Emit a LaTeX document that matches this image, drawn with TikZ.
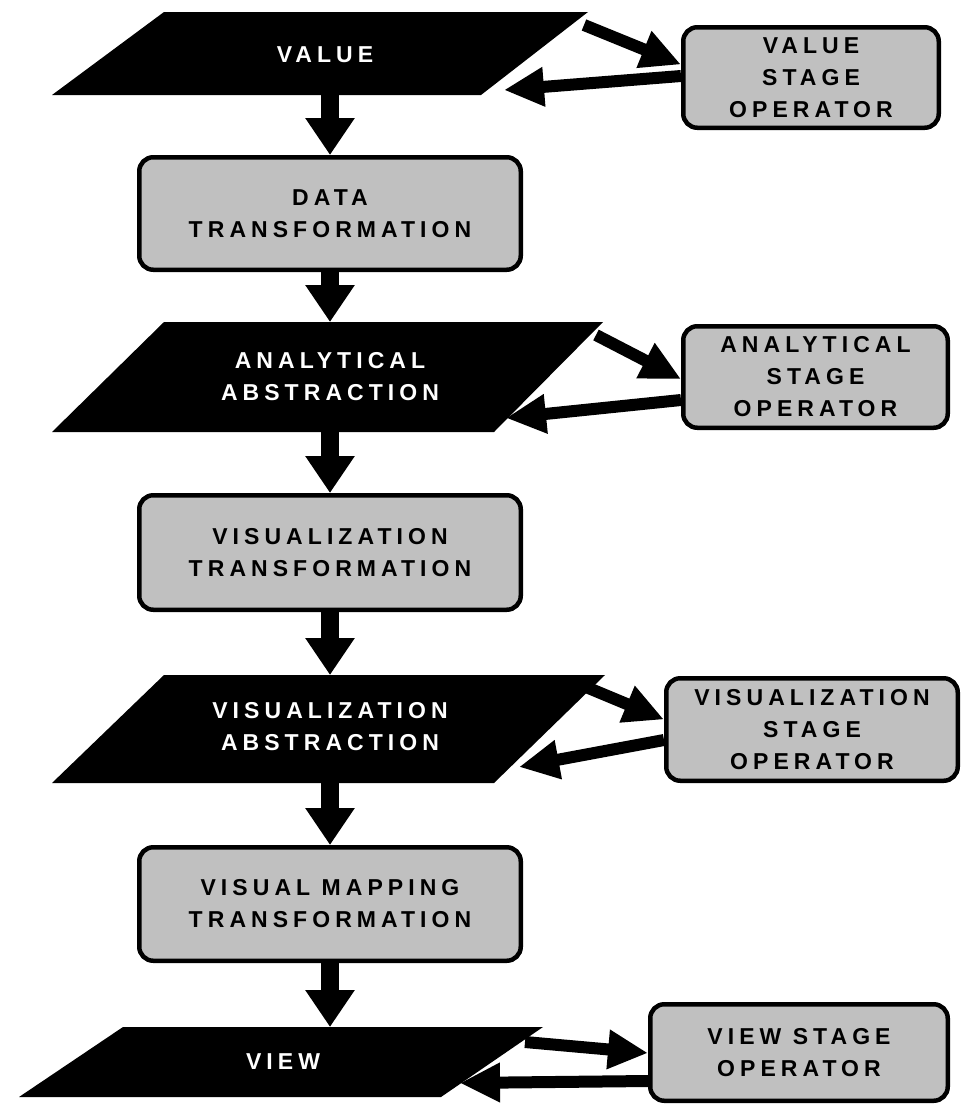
\documentclass[tikz,border=0pt]{standalone}
\usepackage{fontspec}
\newfontfamily\labfam{Liberation Sans}[LetterSpace=22]
\newcommand\labfont{\labfam\bfseries\fontsize{23}{32}\selectfont}
\usetikzlibrary{arrows.meta}
\definecolor{boxgray}{RGB}{192,192,192}
\begin{document}
\begin{tikzpicture}[x=1pt,y=-1pt,
  box/.style={draw=black, line width=4.5pt, fill=boxgray, rounded corners=14pt,
    inner sep=0pt, align=center, font=\labfont, text=black},
  para/.style={fill=black},
  ptext/.style={align=center, font=\labfont, text=white, inner sep=0pt},
  flow/.style={line width=18pt, -{Triangle[length=37pt,width=47pt]}},
  side/.style={line width=12pt, -{Triangle[length=40pt,width=37pt]}}]
\useasboundingbox (0,0) rectangle (963,1104);

% parallelograms (stages)
\fill[para] (164,12) -- (588,12) -- (481,95) -- (52,95) -- cycle;
\fill[para] (164,322) -- (603,322) -- (494,432) -- (52,432) -- cycle;
\fill[para] (164,675) -- (605,675) -- (494,783) -- (52,783) -- cycle;
\fill[para] (123,1027) -- (543,1027) -- (441,1097) -- (19,1097) -- cycle;

\node[ptext] (val) at (325,55) {VALUE};
\node[ptext] (aa) at (330,377) {ANALYTICAL\\ABSTRACTION};
\node[ptext] (va) at (330,727) {VISUALIZATION\\ABSTRACTION};
\node[ptext] (view) at (283,1062) {VIEW};

\coordinate (p1b) at (330,94);
\coordinate (p2t) at (330,322);
\coordinate (p2b) at (330,431);
\coordinate (p3t) at (330,675);
\coordinate (p3b) at (330,782);
\coordinate (p4t) at (330,1027);

% transformation boxes
\node[box, minimum width=381.5pt, minimum height=112.5pt] (dt) at (330,213.5) {DATA\\TRANSFORMATION};
\node[box, minimum width=381.5pt, minimum height=114.5pt] (vt) at (330,552.5) {VISUALIZATION\\TRANSFORMATION};
\node[box, minimum width=381.5pt, minimum height=113.5pt] (vmt) at (330,904) {VISUAL MAPPING\\TRANSFORMATION};

% stage operators
\node[box, minimum width=255.5pt, minimum height=100.5pt] (vso) at (811,77.5) {VALUE\\STAGE\\OPERATOR};
\node[box, minimum width=264.5pt, minimum height=101.5pt] (aso) at (815.5,377) {ANALYTICAL\\STAGE\\OPERATOR};
\node[box, minimum width=291.5pt, minimum height=102.5pt] (vzso) at (812,729.5) {VISUALIZATION\\STAGE\\OPERATOR};
\node[box, minimum width=297.5pt, minimum height=96.5pt] (vwso) at (799,1052.5) {VIEW STAGE\\OPERATOR};

% main flow
\draw[flow] (p1b) -- (dt.north);
\draw[flow] (dt.south) -- (p2t);
\draw[flow] (p2b) -- (vt.north);
\draw[flow] (vt.south) -- (p3t);
\draw[flow] (p3b) -- (vmt.north);
\draw[flow] (vmt.south) -- (p4t);

% side loops
\coordinate (o1) at (584,25);
\coordinate (r1) at (504,90);
\coordinate (o2) at (596,335);
\coordinate (r2) at (506,418);
\coordinate (o3) at (586,687);
\coordinate (r3) at (519,767);
\coordinate (o4) at (525,1042);
\coordinate (r4) at (460,1083);

\draw[side] (o1) -- ([yshift=13pt]vso.west);
\draw[side] ([yshift=1.5pt]vso.west) -- (r1);
\draw[side] (o2) -- ([yshift=-2pt]aso.west);
\draw[side] ([yshift=-23pt]aso.west) -- (r2);
\draw[side] (o3) -- ([yshift=10pt]vzso.west);
\draw[side] ([yshift=-10.5pt]vzso.west) -- (r3);
\draw[side] (o4) -- ([yshift=-0.5pt]vwso.west);
\draw[side] ([yshift=-28.5pt]vwso.west) -- (r4);
\end{tikzpicture}
\end{document}
